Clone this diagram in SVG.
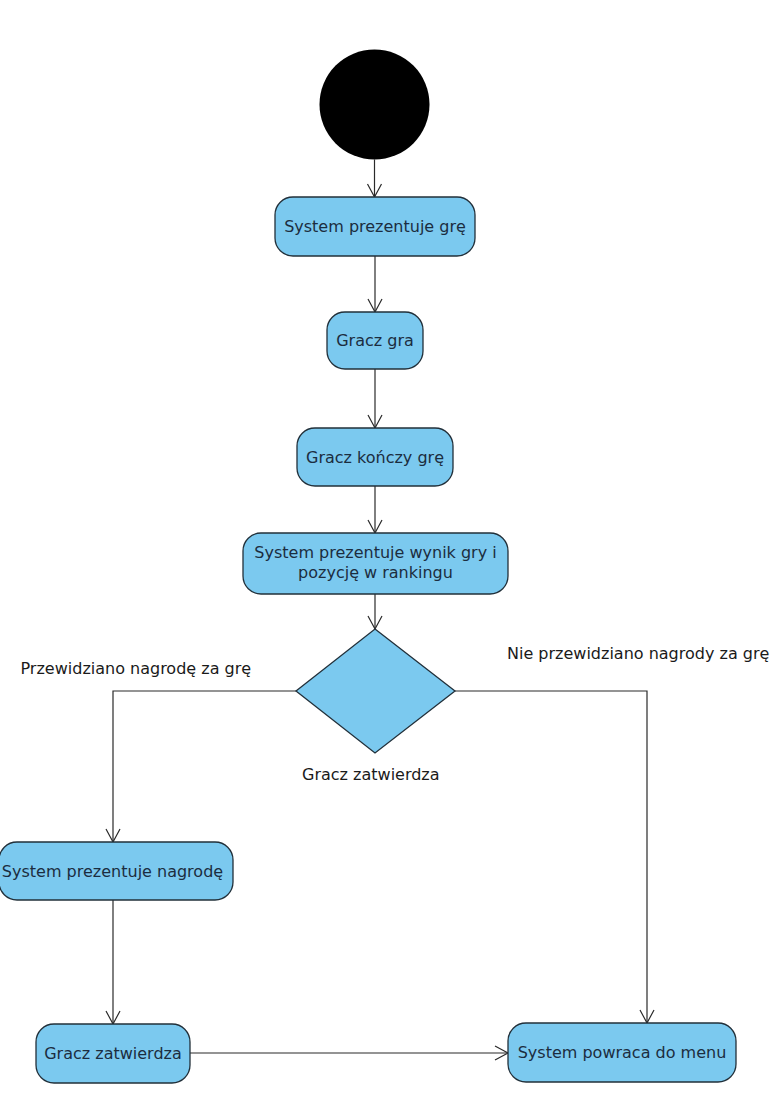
<svg xmlns="http://www.w3.org/2000/svg" width="777" height="1107" viewBox="0 0 777 1107">
  <style>
    .node { fill: #7BC9EF; stroke: #22303a; stroke-width: 1.3; }
    .lbl { font-family: "DejaVu Sans", "Liberation Sans", sans-serif; font-size: 16px; fill: #1b2d40; text-anchor: middle; }
    .edge-lbl { font-family: "DejaVu Sans", "Liberation Sans", sans-serif; font-size: 16px; fill: #1a1a1a; }
    .conn { fill: none; stroke: #2a2a2a; stroke-width: 1.2; marker-end: url(#arrow); }
  </style>
  <defs>
    <marker id="arrow" markerUnits="userSpaceOnUse" orient="auto" refX="0" refY="0" overflow="visible" markerWidth="20" markerHeight="20">
      <path d="M-13,-7 L0,0 L-13,7" fill="none" stroke="#2a2a2a" stroke-width="1.2"/>
    </marker>
  </defs>
  <rect x="0" y="0" width="777" height="1107" fill="#ffffff"/>

  <g id="connectors">
    <line class="conn" x1="374.5" y1="159.5" x2="374.5" y2="197"/>
    <line class="conn" x1="375" y1="256" x2="375" y2="312"/>
    <line class="conn" x1="375" y1="369" x2="375" y2="428"/>
    <line class="conn" x1="375" y1="486" x2="375" y2="533"/>
    <line class="conn" x1="375" y1="594" x2="375" y2="629"/>
    <polyline class="conn" points="296,691 113,691 113,842"/>
    <polyline class="conn" points="455,691 647,691 647,1023"/>
    <line class="conn" x1="113" y1="900" x2="113" y2="1024"/>
    <line class="conn" x1="190" y1="1053" x2="508" y2="1053"/>
    <text class="edge-lbl" x="20.5" y="674">Przewidziano nagrodę za grę</text>
    <text class="edge-lbl" x="507" y="659">Nie przewidziano nagrody za grę</text>
    <text class="edge-lbl" x="302" y="780">Gracz zatwierdza</text>
  </g>

  <g id="start">
    <circle cx="374.5" cy="104.5" r="55" fill="#000000"/>
  </g>
  <g id="n1">
    <rect class="node" x="275" y="197" width="200" height="59" rx="18" ry="18"/>
    <text class="lbl" x="375" y="232">System prezentuje grę</text>
  </g>
  <g id="n2">
    <rect class="node" x="327" y="312" width="96" height="57" rx="18" ry="18"/>
    <text class="lbl" x="375" y="346">Gracz gra</text>
  </g>
  <g id="n3">
    <rect class="node" x="297" y="428" width="156" height="58" rx="18" ry="18"/>
    <text class="lbl" x="375" y="463">Gracz kończy grę</text>
  </g>
  <g id="n4">
    <rect class="node" x="243" y="533" width="265" height="61" rx="18" ry="18"/>
    <text class="lbl" x="375.5" y="558">System prezentuje wynik gry i</text>
    <text class="lbl" x="375.5" y="578">pozycję w rankingu</text>
  </g>
  <g id="decision">
    <polygon class="node" points="375,629 455,691 375,753 296,691"/>
  </g>
  <g id="n5">
    <rect class="node" x="-1" y="842" width="234" height="58" rx="18" ry="18"/>
    <text class="lbl" x="112.5" y="877">System prezentuje nagrodę</text>
  </g>
  <g id="n6">
    <rect class="node" x="36" y="1024" width="154" height="59" rx="18" ry="18"/>
    <text class="lbl" x="113" y="1059">Gracz zatwierdza</text>
  </g>
  <g id="n7">
    <rect class="node" x="508" y="1023" width="228" height="59" rx="18" ry="18"/>
    <text class="lbl" x="622" y="1058">System powraca do menu</text>
  </g>
</svg>
